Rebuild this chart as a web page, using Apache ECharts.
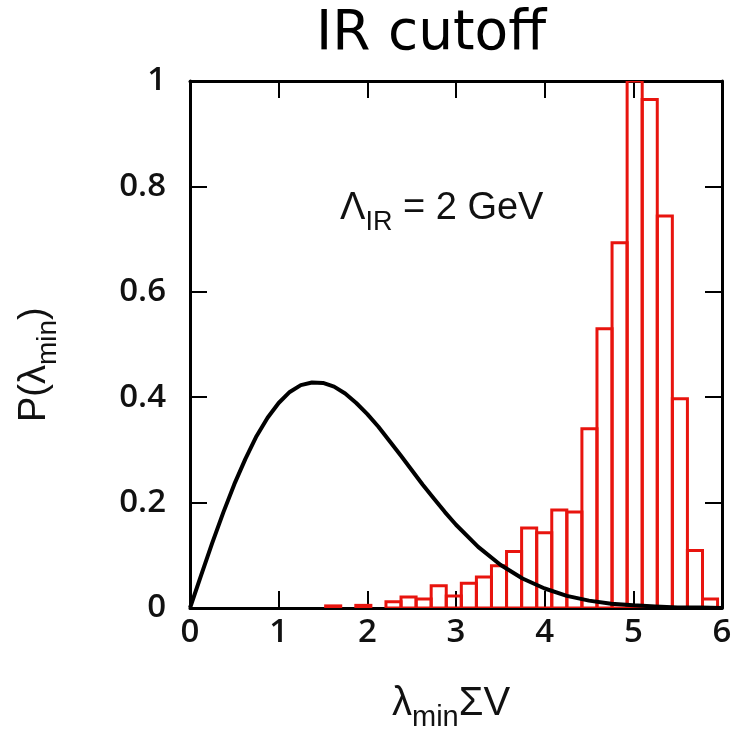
<!DOCTYPE html>
<html>
<head>
<meta charset="utf-8">
<script src="https://cdn.jsdelivr.net/npm/echarts@6/dist/echarts.min.js"></script>
<style>
  html, body { margin: 0; padding: 0; background: #fff; }
  #chart { width: 739px; height: 741px; }
</style>
</head>
<body>
<div id="chart"></div>
<script>
// histogram of lambda_min Sigma V, bins of width 0.17 starting at 0
const binWidth = 0.17;
const binHeights = [
    0, 0, 0, 0, 0, 0, 0, 0, 0, 0.004,
    0, 0.005, 0, 0.012, 0.021, 0.017, 0.042, 0.023, 0.047, 0.059,
    0.08, 0.107, 0.152, 0.143, 0.186, 0.182, 0.34, 0.53, 0.693, 1.0,
    0.965, 0.744, 0.397, 0.109, 0.017
];

// black curve
const curveX = [0, 0.125, 0.25, 0.375, 0.5, 0.625, 0.75, 0.875, 1, 1.125, 1.25, 1.375,
    1.5, 1.625, 1.75, 1.875, 2, 2.125, 2.25, 2.375, 2.5, 2.625, 2.75, 2.875, 3,
    3.25, 3.5, 3.75, 4, 4.25, 4.5, 4.75, 5, 5.25, 5.5, 5.75, 6];
const curveY = [0, 0.062, 0.123, 0.181, 0.235, 0.283, 0.326, 0.361, 0.389, 0.410, 0.423, 0.428,
    0.427, 0.420, 0.407, 0.389, 0.368, 0.344, 0.317, 0.290, 0.262, 0.234, 0.208, 0.182, 0.158,
    0.116, 0.082, 0.056, 0.037, 0.023, 0.014, 0.008, 0.005, 0.003, 0.001, 0.001, 0];

const xTicks = [0, 6, 1];      // min, max, interval
const yTicks = [0, 1, 0.2];

const histData = binHeights
    .map((h, i) => [i * binWidth, (i + 1) * binWidth, h])
    .filter(d => d[2] > 0);

const tickFont = 'Open Sans';
const textFont = 'Liberation Sans';

const axisCommon = {
    type: 'value',
    axisLine: { show: true, onZero: false, lineStyle: { color: '#000', width: 3 } },
    axisTick: { show: true, inside: true, length: 17, lineStyle: { color: '#000', width: 2 } },
    splitLine: { show: false }
};

// rich text styles for labels with a subscript
const richSub = (base, sub, drop) => ({
    b: { fontSize: base, lineHeight: base + 4, fontFamily: textFont, verticalAlign: 'top' },
    s: { fontSize: sub, lineHeight: sub, padding: [drop, 0, 0, 0], fontFamily: textFont, verticalAlign: 'top' }
});

const myChart = echarts.init(document.querySelector('#chart'));

myChart.setOption({
    animation: false,
    grid: { left: 190, top: 81, width: 532, height: 527 },
    xAxis: [
        Object.assign({}, axisCommon, {
            position: 'bottom',
            min: xTicks[0], max: xTicks[1], interval: xTicks[2],
            axisLabel: { fontSize: 33, color: '#111', fontFamily: tickFont, fontWeight: 600, margin: 8 }
        }),
        Object.assign({}, axisCommon, {
            position: 'top',
            min: xTicks[0], max: xTicks[1], interval: xTicks[2],
            axisLabel: { show: false }
        })
    ],
    yAxis: [
        Object.assign({}, axisCommon, {
            position: 'left',
            min: yTicks[0], max: yTicks[1], interval: yTicks[2],
            axisLabel: { fontSize: 33, color: '#111', fontFamily: tickFont, fontWeight: 600, margin: 24 }
        }),
        Object.assign({}, axisCommon, {
            position: 'right',
            min: yTicks[0], max: yTicks[1], interval: yTicks[2],
            axisLabel: { show: false }
        })
    ],
    graphic: [
        {
            type: 'text', left: 316, top: 7,
            style: { text: 'IR cutoff', font: '55px "DejaVu Sans"', fill: '#000' }
        },
        {
            type: 'text', x: 340, y: 190,
            style: { text: '{b|Λ}{s|IR}{b| = 2 GeV}', fill: '#111', rich: richSub(38, 27, 19) }
        },
        {
            type: 'text', x: 392, y: 684,
            style: { text: '{b|λ}{s|min}{b|ΣV}', fill: '#111', rich: richSub(40, 29, 19) }
        },
        {
            type: 'text', x: 16, y: 422, rotation: Math.PI / 2,
            style: { text: '{b|P(λ}{s|min}{b|)}', fill: '#111', rich: richSub(38, 28, 18) }
        }
    ],
    series: [
        {
            type: 'custom',
            clip: true,
            z: 3,
            data: histData,
            renderItem: (params, api) => {
                const p0 = api.coord([api.value(0), 0]);
                const p1 = api.coord([api.value(1), api.value(2)]);
                return {
                    type: 'rect',
                    shape: { x: p0[0], y: p1[1], width: p1[0] - p0[0], height: p0[1] - p1[1] },
                    style: { fill: 'none', stroke: '#e8140e', lineWidth: 3 }
                };
            }
        },
        {
            type: 'line',
            z: 4,
            data: curveX.map((x, i) => [x, curveY[i]]),
            showSymbol: false,
            lineStyle: { color: '#000', width: 4, join: 'round' }
        }
    ]
});
</script>
</body>
</html>
